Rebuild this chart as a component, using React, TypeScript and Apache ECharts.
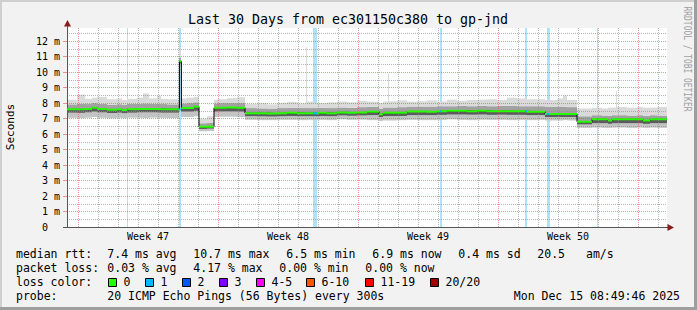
import React, { useEffect, useRef } from "react";
import * as echarts from "echarts";

// ---- time buckets (days since left edge of the 30-day window) ----
const segStart = [0, 0.5, 0.9, 1.25, 1.5, 2, 2.5, 2.75, 3, 3.5, 3.8, 4.1, 4.5, 4.7, 5, 5.55, 5.62, 5.72, 6, 6.35, 6.6, 7, 7.35, 7.5, 8, 8.5, 8.9, 9.5, 10, 10.5, 11, 11.5, 11.95, 12, 12.35, 12.6, 13, 13.5, 14, 14.5, 15, 15.6, 15.8, 16.05, 16.1, 16.5, 17, 17.5, 18, 18.5, 19, 19.5, 20, 20.5, 21, 21.5, 22, 22.5, 23, 23.5, 23.9, 24.5, 24.8, 25, 25.5, 26.25, 26.75, 27.05, 27.25, 27.45, 27.5, 28, 28.5, 28.8, 29.15, 29.5];
const RANGE_END = 30;

// median rtt (ms)
const median = [7.6, 7.6, 7.62, 7.7, 7.62, 7.57, 7.6, 7.56, 7.6, 7.62, 7.62, 7.62, 7.62, 7.61, 7.6, 7.58, 10.7, 7.68, 7.68, 7.76, 6.47, 6.47, 7.7, 7.7, 7.72, 7.7, 7.35, 7.35, 7.33, 7.35, 7.37, 7.35, 7.35, 7.35, 7.35, 7.37, 7.35, 7.4, 7.38, 7.4, 7.44, 7.28, 7.37, 7.37, 7.37, 7.37, 7.46, 7.46, 7.45, 7.47, 7.5, 7.5, 7.48, 7.5, 7.47, 7.48, 7.47, 7.47, 7.44, 7.45, 7.3, 7.29, 7.29, 7.29, 6.8, 6.95, 6.95, 6.87, 6.95, 6.95, 6.95, 6.95, 6.95, 6.87, 6.95, 6.95];
// smoke (ms)
const smokeMin = [7.05, 7.03, 7.06, 7.1, 7.05, 7.02, 7.05, 7.03, 7.06, 7.05, 7.04, 7.06, 7.05, 7.05, 7.04, 7.05, 10.35, 7.1, 7.1, 7.15, 6.18, 6.2, 7.1, 7.12, 7.12, 7.1, 6.92, 6.9, 6.9, 6.92, 6.92, 6.9, 6.9, 6.92, 6.92, 6.92, 6.9, 6.95, 6.92, 6.93, 6.9, 6.85, 6.88, 6.88, 6.88, 6.9, 6.92, 6.9, 6.9, 6.92, 6.95, 6.92, 6.9, 6.93, 6.92, 6.92, 6.9, 6.92, 6.9, 6.92, 6.88, 6.88, 6.9, 6.88, 6.4, 6.42, 6.4, 6.4, 6.42, 6.42, 6.42, 6.4, 6.42, 6.4, 6.42, 6.4];
const smokeLow = [7.38, 7.37, 7.4, 7.45, 7.4, 7.36, 7.38, 7.35, 7.38, 7.4, 7.4, 7.4, 7.39, 7.38, 7.38, 7.36, 10.55, 7.45, 7.45, 7.5, 6.33, 6.35, 7.45, 7.46, 7.46, 7.45, 7.15, 7.14, 7.13, 7.15, 7.16, 7.15, 7.15, 7.15, 7.15, 7.16, 7.15, 7.2, 7.18, 7.2, 7.22, 7.1, 7.16, 7.16, 7.16, 7.17, 7.22, 7.22, 7.22, 7.24, 7.26, 7.26, 7.25, 7.26, 7.24, 7.25, 7.24, 7.24, 7.22, 7.22, 7.1, 7.1, 7.1, 7.1, 6.62, 6.7, 6.7, 6.66, 6.7, 6.7, 6.7, 6.7, 6.7, 6.66, 6.7, 6.7];
const smokeHigh = [7.92, 7.95, 7.94, 8.0, 7.95, 7.9, 7.93, 7.9, 7.95, 7.96, 7.98, 7.95, 7.96, 7.94, 7.92, 7.9, 10.95, 7.98, 8.0, 8.05, 6.7, 6.72, 7.98, 8.0, 8.0, 8.0, 7.68, 7.66, 7.65, 7.68, 7.7, 7.68, 7.7, 7.68, 7.68, 7.7, 7.68, 7.72, 7.7, 7.74, 7.76, 7.65, 7.72, 7.72, 7.72, 7.74, 7.78, 7.78, 7.78, 7.8, 7.8, 7.82, 7.8, 7.82, 7.8, 7.82, 7.82, 7.8, 7.8, 7.8, 7.75, 7.78, 7.76, 7.74, 7.15, 7.22, 7.2, 7.18, 7.22, 7.22, 7.22, 7.2, 7.22, 7.18, 7.22, 7.2];
const smokeMax = [8.22, 8.55, 8.28, 8.35, 8.4, 8.25, 8.3, 8.2, 8.28, 8.35, 8.62, 8.3, 8.48, 8.28, 8.25, 8.2, 11.5, 8.3, 8.35, 8.4, 7.0, 7.15, 8.2, 8.25, 8.32, 8.38, 7.95, 8.0, 7.92, 8.02, 8.08, 7.98, 11.6, 8.1, 8.0, 8.0, 8.05, 8.1, 8.05, 8.15, 8.1, 8.0, 8.1, 9.9, 8.12, 8.18, 8.1, 8.12, 8.18, 8.1, 8.22, 8.15, 8.2, 8.22, 8.25, 8.2, 8.35, 8.3, 8.25, 8.25, 8.2, 8.3, 8.5, 8.2, 7.65, 7.7, 7.65, 7.7, 7.7, 8.8, 7.75, 7.7, 7.75, 7.7, 7.7, 7.75];

// buckets with 1/20 packet loss (days)
const lossStart = [3.0, 5.58, 12.3, 18.65, 22.9, 23.98, 26.5];
const lossEnd = [3.05, 5.68, 12.5, 18.75, 23.0, 24.13, 26.55];

// x-axis labels
const weekLabels = ["Week 47", "Week 48", "Week 49", "Week 50"];
const weekLabelPos = [4.05, 11.05, 18.05, 25.05];
const FIRST_MIDNIGHT = 0.55; // first Monday 00:00 (days)
const Y_MAX = 12.85;

// legend
const lossLegendLabels = ["0", "1", "2", "3", "4-5", "6-10", "11-19", "20/20"];
const lossLegendColors = ["#26ff00", "#00b8ff", "#0059ff", "#7e00ff", "#ff00ff", "#ff5500", "#ff0000", "#a10000"];
const lossLegendX = [108.5, 145.5, 182.5, 219.5, 256.5, 306.5, 365.5, 430.5];

const MONO = "'DejaVu Sans Mono', monospace";

function buildOption() {
  const n = segStart.length;
  const segEnd = segStart.map((_, i) => (i < n - 1 ? segStart[i + 1] : RANGE_END));
  const smokeData = segStart.map((t, i) => [t, segEnd[i], smokeMin[i], smokeLow[i], median[i], smokeHigh[i], smokeMax[i]]);
  const medianLine = segStart.map((t, i) => [t, median[i]]);
  medianLine.push([RANGE_END, median[n - 1]]);
  const greenLine: any[] = [];
  segStart.forEach((t, i) => {
    greenLine.push([t, median[i]]);
    greenLine.push([segEnd[i], median[i]]);
    greenLine.push([segEnd[i], "-"]);
  });
  const medAt = (t: number) => {
    let k = 0;
    for (let i = 0; i < n; i++) if (segStart[i] <= t) k = i;
    return median[k];
  };
  const blueLine: any[] = [];
  lossStart.forEach((s, i) => {
    const m = medAt(s);
    blueLine.push([s, m]);
    blueLine.push([lossEnd[i], m]);
    blueLine.push([lossEnd[i], "-"]);
  });
  const lossData = lossStart.map((s, i) => [s, lossEnd[i], Y_MAX]);
  const gridDays: number[][] = [];
  for (let k = 0; FIRST_MIDNIGHT + k < RANGE_END; k++) gridDays.push([FIRST_MIDNIGHT + k, k % 7 === 0 ? 1 : 0]);

  const bandColors = ["#c4c4c4", "#5c5c5c", "#a2a2a2", "#dadada"];
  const majorCol = "rgba(222,79,79,0.6)";
  const minorCol = "rgba(143,143,143,0.65)";

  const txt = (text: string, x: number, y: number, extra: any = {}) => ({
    type: "text",
    x,
    y,
    z: 10,
    style: {
      text,
      fontFamily: MONO,
      fontSize: 11.5,
      fill: "#000",
      align: "left",
      verticalAlign: "middle",
      ...extra,
    },
  });

  const graphics: any[] = [
    // frame shading
    { type: "rect", shape: { x: 0, y: 0, width: 697, height: 2 }, style: { fill: "#cfcfcf" }, z: 1 },
    { type: "rect", shape: { x: 0, y: 0, width: 2, height: 310 }, style: { fill: "#cfcfcf" }, z: 1 },
    { type: "rect", shape: { x: 0, y: 307, width: 697, height: 3 }, style: { fill: "#9e9e9e" }, z: 1 },
    { type: "rect", shape: { x: 694, y: 0, width: 3, height: 310 }, style: { fill: "#9e9e9e" }, z: 1 },
    // axis extensions + arrows
    { type: "line", shape: { x1: 67.5, y1: 28, x2: 67.5, y2: 23 }, style: { stroke: "#555", lineWidth: 1 }, z: 10 },
    { type: "line", shape: { x1: 63, y1: 227.5, x2: 67, y2: 227.5 }, style: { stroke: "#555", lineWidth: 1 }, z: 10 },
    { type: "line", shape: { x1: 667, y1: 227.5, x2: 670, y2: 227.5 }, style: { stroke: "#555", lineWidth: 1 }, z: 10 },
    { type: "polygon", shape: { points: [[67.5, 20], [64, 26.5], [71, 26.5]] }, style: { fill: "#8b1a1a" }, z: 10 },
    { type: "polygon", shape: { points: [[674, 227.5], [667.5, 224], [667.5, 231]] }, style: { fill: "#8b1a1a" }, z: 10 },
    // title
    txt("Last 30 Days from ec301150c380 to gp-jnd", 348, 19, { fontSize: 13.3, align: "center" }),
    // y axis title
    { type: "text", x: 10, y: 127, rotation: Math.PI / 2, z: 10, style: { text: "Seconds", fontFamily: MONO, fontSize: 11, fill: "#000", align: "center", verticalAlign: "middle" } },
    // watermark
    { type: "text", x: 688.5, y: 59, rotation: -Math.PI / 2, scaleX: 0.72, z: 10, style: { text: "RRDTOOL / TOBI OETIKER", fontFamily: MONO, fontSize: 11, fill: "#a0a0a0", align: "center", verticalAlign: "middle" } },
    // legend rows
    txt("median rtt:", 16, 254.3),
    txt("7.4 ms avg", 107.3, 254.3),
    txt("10.7 ms max", 193.3, 254.3),
    txt("6.5 ms min", 286.3, 254.3),
    txt("6.9 ms now", 372.3, 254.3),
    txt("0.4 ms sd", 458.3, 254.3),
    txt("20.5", 537.3, 254.3),
    txt("am/s", 586, 254.3),
    txt("packet loss:", 16, 268),
    txt("0.03 % avg", 107.3, 268),
    txt("4.17 % max", 193.3, 268),
    txt("0.00 % min", 279.3, 268),
    txt("0.00 % now", 365.3, 268),
    txt("loss color:", 16, 282),
    txt("probe:", 16, 295.5),
    txt("20 ICMP Echo Pings (56 Bytes) every 300s", 107.3, 295.5),
    txt("Mon Dec 15 08:49:46 2025", 680, 295.5, { align: "right" }),
  ];
  lossLegendLabels.forEach((lab, i) => {
    graphics.push({
      type: "rect",
      z: 10,
      shape: { x: lossLegendX[i], y: 278.5, width: 8, height: 8 },
      style: { fill: lossLegendColors[i], stroke: "#000", lineWidth: 1 },
    });
    graphics.push(txt(lab, lossLegendX[i] + 15, 282));
  });

  return {
    animation: false,
    backgroundColor: "#f2f2f2",
    grid: { left: 67, right: 30, top: 28, bottom: 83, show: true, backgroundColor: "#ffffff", borderWidth: 0 },
    xAxis: {
      type: "value",
      min: 0,
      max: RANGE_END,
      z: 3,
      axisLine: { show: true, lineStyle: { color: "#555", width: 1 } },
      axisTick: { show: false },
      splitLine: { show: false },
      axisLabel: {
        customValues: weekLabelPos,
        margin: 4,
        fontFamily: MONO,
        fontSize: 10,
        color: "#000",
        formatter: (v: number) => {
          let best = 0;
          weekLabelPos.forEach((p, i) => {
            if (Math.abs(p - v) < Math.abs(weekLabelPos[best] - v)) best = i;
          });
          return weekLabels[best];
        },
      },
    },
    yAxis: {
      type: "value",
      min: 0,
      max: Y_MAX,
      interval: 1,
      z: 3,
      axisLine: { show: true, lineStyle: { color: "#555", width: 1 } },
      axisTick: { show: true, length: 4, lineStyle: { color: majorCol } },
      axisLabel: {
        showMaxLabel: false,
        margin: 7,
        fontFamily: MONO,
        fontSize: 10,
        color: "#000",
        formatter: (v: number) => (v === 0 ? "0\u00a0\u00a0" : v + " m"),
      },
      splitLine: { show: true, showMinLine: false, showMaxLine: false, lineStyle: { color: majorCol, type: [1, 1], width: 1 } },
      minorTick: { show: false, splitNumber: 2 },
      minorSplitLine: { show: true, lineStyle: { color: minorCol, type: [1, 1], width: 1 } },
    },
    graphic: { elements: graphics },
    series: [
      {
        type: "custom",
        name: "lossbg",
        z: 1,
        clip: true,
        data: lossData,
        encode: { x: [0, 1], y: 2 },
        renderItem: (params: any, api: any) => {
          const p0 = api.coord([api.value(0), api.value(2)]);
          const p1 = api.coord([api.value(1), 0]);
          const x0 = Math.round(p0[0]);
          const x1 = Math.max(x0 + 1, Math.round(p1[0]));
          return { type: "rect", shape: { x: x0, y: p0[1], width: x1 - x0, height: p1[1] - p0[1] }, style: { fill: "#aee2f6" } };
        },
      },
      {
        type: "custom",
        name: "smoke",
        z: 2,
        clip: true,
        data: smokeData,
        encode: { x: [0, 1], y: [2, 3, 4, 5, 6] },
        renderItem: (params: any, api: any) => {
          const t0 = api.value(0);
          const t1 = api.value(1);
          const x0 = Math.round(api.coord([t0, 0])[0]);
          const x1 = Math.round(api.coord([t1, 0])[0]);
          const ys = [2, 3, 4, 5, 6].map((d) => api.coord([t0, api.value(d)])[1]);
          const children = bandColors.map((c, b) => ({
            type: "rect",
            shape: { x: x0, y: ys[b + 1], width: x1 - x0, height: ys[b] - ys[b + 1] },
            style: { fill: c },
          }));
          return { type: "group", children };
        },
      },
      {
        type: "custom",
        name: "vgrid",
        z: 3,
        clip: true,
        data: gridDays,
        encode: { x: 0, y: 1 },
        renderItem: (params: any, api: any) => {
          const v = api.value(0);
          const major = api.value(1) === 1;
          const p0 = api.coord([v, 0]);
          const p1 = api.coord([v, Y_MAX]);
          const x = Math.round(p0[0]) + 0.5;
          return {
            type: "line",
            shape: { x1: x, y1: p0[1], x2: x, y2: p1[1] },
            style: { stroke: major ? majorCol : minorCol, lineWidth: 1, lineDash: [1, 1] },
          };
        },
      },
      {
        type: "line",
        name: "median",
        z: 4,
        step: "end",
        symbol: "none",
        data: medianLine,
        lineStyle: { color: "#000", width: 1 },
      },
      {
        type: "line",
        name: "median-loss0",
        z: 5,
        symbol: "none",
        connectNulls: false,
        data: greenLine,
        lineStyle: { color: "#26ff00", width: 2 },
      },
      {
        type: "line",
        name: "median-loss1",
        z: 6,
        symbol: "none",
        connectNulls: false,
        data: blueLine,
        lineStyle: { color: "#00b8ff", width: 2 },
      },
    ],
  };
}

export default function App() {
  const ref = useRef<HTMLDivElement>(null);
  useEffect(() => {
    if (!ref.current) return;
    const chart = echarts.init(ref.current, null, { renderer: "svg" });
    chart.setOption(buildOption() as any);
    return () => chart.dispose();
  }, []);
  return <div ref={ref} style={{ position: "absolute", left: 0, top: 0, width: 697, height: 310 }} />;
}
